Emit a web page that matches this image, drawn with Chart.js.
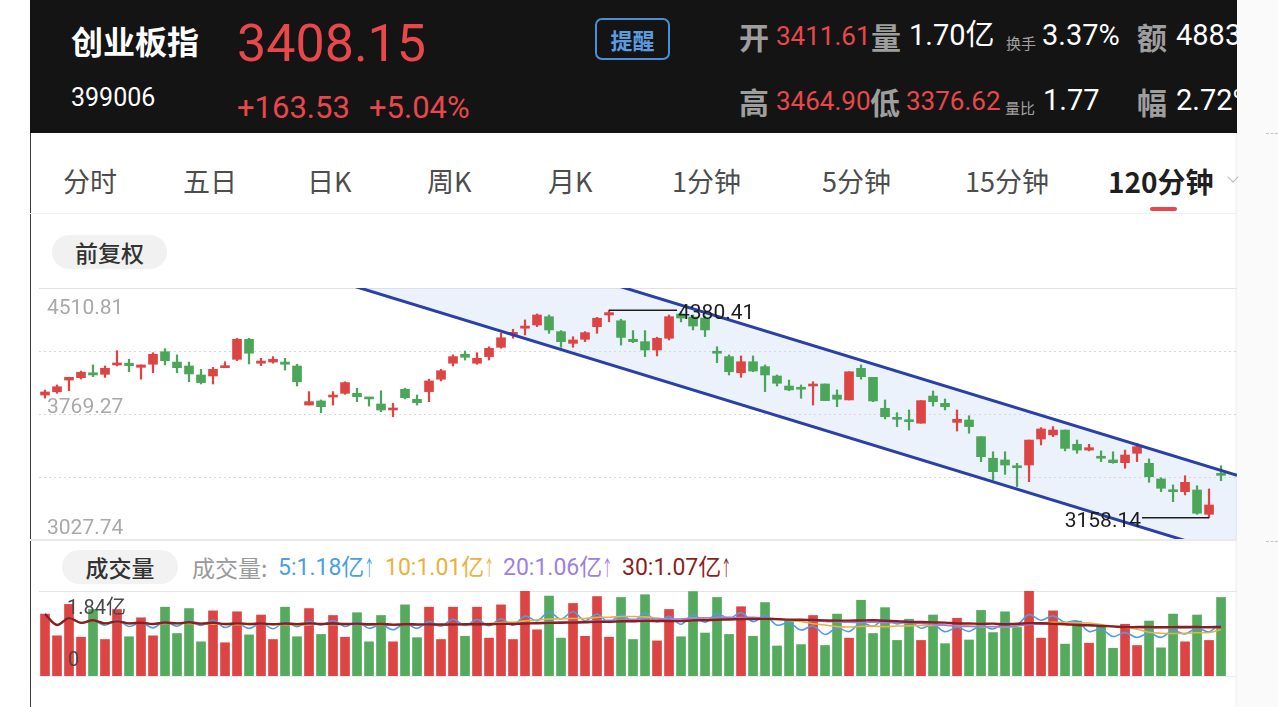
<!DOCTYPE html>
<html>
<head>
<meta charset="utf-8">
<script src="https://cdn.jsdelivr.net/npm/chart.js@4.4.0/dist/chart.umd.min.js"></script>
<style>
  body { margin: 0; width: 1278px; height: 707px; overflow: hidden; background: #fff; position: relative;
         font-family: "Noto Sans CJK SC", sans-serif; }
  .a { position: absolute; white-space: nowrap; line-height: 1; }
  .num { font-family: Roboto, "Noto Sans CJK SC", sans-serif; }
  #head { position: absolute; left: 30px; top: 0; width: 1207px; height: 133px; background: #141414; overflow: hidden; }
  .red { color: #e8484c; }
  .wht { color: #fff; }
  .lbl { font-size: 30px; font-weight: 700; color: #9e9e9e; }
  .sm { font-size: 15px; color: #a0a0a0; }
  .tab { font-size: 27px; color: #4d4d4d; top: 167px; }
  .pill { position: absolute; background: #f1f1f1; border-radius: 17px; text-align: center; color: #333;
          font-size: 23px; font-weight: 500; height: 34px; line-height: 34px; }
  .ar { display: inline-block; width: 8px; transform: scaleX(0.5); transform-origin: left center; font-size: 21px; }
  canvas { position: absolute; }
</style>
</head>
<body>

<div id="head">
  <div class="a wht" style="left:41px;top:24px;font-size:32px;font-weight:700;">创业板指</div>
  <div class="a num red" style="left:207px;top:18px;font-size:52px;">3408.15</div>
  <div class="a num wht" style="left:41px;top:85px;font-size:25px;">399006</div>
  <div class="a num red" style="left:207px;top:92px;font-size:31px;">+163.53</div>
  <div class="a num red" style="left:339px;top:92px;font-size:31px;">+5.04%</div>
  <div class="a" style="left:565px;top:18px;width:71px;height:38px;line-height:38px;border:2px solid #4c8fd4;border-radius:7px;text-align:center;color:#5b9be0;font-size:22px;font-weight:600;">提醒</div>

  <div class="a lbl" style="left:709px;top:21px;">开</div>
  <div class="a num red" style="left:746px;top:23px;font-size:26px;">3411.61</div>
  <div class="a lbl" style="left:841px;top:21px;">量</div>
  <div class="a num wht" style="left:879px;top:21px;font-size:29px;">1.70亿</div>
  <div class="a sm" style="left:976px;top:35px;">换手</div>
  <div class="a num wht" style="left:1012px;top:21px;font-size:29px;">3.37%</div>
  <div class="a lbl" style="left:1107px;top:21px;">额</div>
  <div class="a num wht" style="left:1146px;top:21px;font-size:29px;">4883</div>

  <div class="a lbl" style="left:709px;top:86px;">高</div>
  <div class="a num red" style="left:746px;top:88px;font-size:26px;">3464.90</div>
  <div class="a lbl" style="left:840px;top:86px;">低</div>
  <div class="a num red" style="left:876px;top:88px;font-size:26px;">3376.62</div>
  <div class="a sm" style="left:975px;top:100px;">量比</div>
  <div class="a num wht" style="left:1013px;top:86px;font-size:29px;">1.77</div>
  <div class="a lbl" style="left:1107px;top:86px;">幅</div>
  <div class="a num wht" style="left:1146px;top:86px;font-size:29px;">2.72%</div>
</div>

<!-- panel edges -->
<div class="a" style="left:30px;top:133px;width:1px;height:574px;background:#3a3a3a;"></div>
<div class="a" style="left:1237px;top:0;width:41px;height:707px;background:#fafafa;box-shadow:-1px 0 2px rgba(0,0,0,0.08);"></div>
<div class="a" style="left:1266px;top:133px;width:12px;border-top:1px dashed #c8c8c8;"></div>
<div class="a" style="left:1266px;top:541px;width:12px;border-top:1px dashed #c8c8c8;"></div>

<!-- tabs -->
<div class="a tab" style="left:63px;">分时</div>
<div class="a tab" style="left:183px;">五日</div>
<div class="a tab" style="left:307px;">日K</div>
<div class="a tab" style="left:427px;">周K</div>
<div class="a tab" style="left:548px;">月K</div>
<div class="a tab" style="left:672px;">1分钟</div>
<div class="a tab" style="left:822px;">5分钟</div>
<div class="a tab" style="left:965px;">15分钟</div>
<div class="a tab" style="left:1108px;font-size:28px;font-weight:700;color:#1f1f1f;">120分钟</div>
<div class="a" style="left:1150px;top:207px;width:27px;height:4px;border-radius:2px;background:#e5474c;"></div>
<div class="a" style="left:1229px;top:173px;width:7px;height:7px;border-right:1.5px solid #bbb;border-bottom:1.5px solid #bbb;transform:rotate(45deg);"></div>
<div class="a" style="left:30px;top:213px;width:1207px;height:1px;background:#efefef;"></div>

<div class="pill" style="left:52px;top:235px;width:115px;">前复权</div>

<canvas id="priceChart" width="1198" height="268" style="left:39px;top:280px;width:1198px;height:268px;"></canvas>
<div class="a" style="left:30px;top:539px;width:1207px;height:2px;background:#e9e9e9;"></div>

<!-- volume header -->
<div class="pill" style="left:62px;top:550px;width:116px;background:#f2f2f2;">成交量</div>
<div class="a" style="left:192px;top:556px;font-size:23px;color:#9a9a9a;">成交量:</div>
<div class="a num" style="left:278px;top:556px;font-size:23px;color:#4b9fe1;">5:1.18亿<span class="ar">↑</span></div>
<div class="a num" style="left:385px;top:556px;font-size:23px;color:#e9b23d;">10:1.01亿<span class="ar">↑</span></div>
<div class="a num" style="left:503px;top:556px;font-size:23px;color:#9d80e3;">20:1.06亿<span class="ar">↑</span></div>
<div class="a num" style="left:622px;top:556px;font-size:23px;color:#8a1f1f;">30:1.07亿<span class="ar">↑</span></div>

<canvas id="volChart" width="1198" height="101" style="left:39px;top:583px;width:1198px;height:101px;"></canvas>

<script>
// ===================================
// DATA (120 minute candles)
// ===================================
const opens = [
  3881, 3900, 3969, 3983, 4012, 4003, 4058, 4068, 4044, 4062,
  4136, 4075, 4052, 3999, 3993, 4042, 4091, 4209, 4068, 4075,
  4075, 4052, 3822, 3846, 3869, 3891, 3891, 3865, 3828, 3793,
  3915, 3856, 3901, 3974, 4068, 4121, 4068, 4107, 4162, 4238,
  4274, 4293, 4342, 4254, 4185, 4209, 4283, 4352, 4318, 4209,
  4195, 4146, 4215, 4358, 4340, 4334, 4136, 4107, 4012, 4077,
  4048, 3993, 3934, 3921, 3934, 3946, 3881, 3852, 4038, 3985,
  3803, 3744, 3730, 3715, 3875, 3832, 3720, 3734, 3636, 3509,
  3499, 3465, 3469, 3622, 3646, 3675, 3591, 3557, 3518, 3499,
  3483, 3538, 3479, 3387, 3322, 3312, 3322, 3179, 3411.61
];
const highs = [
  3910, 3940, 3986, 4022, 4058, 4052, 4142, 4091, 4058, 4130,
  4154, 4117, 4075, 4032, 4044, 4077, 4215, 4215, 4097, 4107,
  4097, 4062, 3901, 3852, 3901, 3959, 3921, 3865, 3906, 3832,
  3921, 3881, 3974, 4032, 4117, 4140, 4130, 4165, 4244, 4268,
  4323, 4358, 4352, 4260, 4224, 4254, 4338, 4380.41, 4327, 4260,
  4260, 4221, 4352, 4370, 4352, 4346, 4165, 4117, 4111, 4111,
  4058, 3999, 3969, 3940, 3959, 3946, 3911, 4018, 4058, 3985,
  3852, 3777, 3793, 3848, 3905, 3858, 3793, 3759, 3636, 3547,
  3547, 3479, 3616, 3689, 3695, 3675, 3616, 3591, 3552, 3547,
  3557, 3597, 3505, 3394, 3352, 3406, 3347, 3328, 3464.90
];
const lows = [
  3863, 3891, 3906, 3975, 3989, 3985, 4052, 4018, 3974, 4012,
  4058, 4012, 3959, 3946, 3946, 4042, 4083, 4064, 4054, 4068,
  4028, 3934, 3822, 3777, 3822, 3885, 3842, 3816, 3783, 3753,
  3858, 3822, 3842, 3964, 4052, 4087, 4062, 4087, 4156, 4215,
  4234, 4283, 4244, 4162, 4162, 4195, 4244, 4312, 4175, 4189,
  4107, 4111, 4205, 4311, 4264, 4225, 4071, 3999, 3985, 4018,
  3901, 3934, 3906, 3862, 3822, 3848, 3812, 3852, 3974, 3842,
  3740, 3695, 3675, 3715, 3816, 3793, 3669, 3656, 3489, 3381,
  3414, 3342, 3371, 3587, 3636, 3552, 3538, 3552, 3489, 3479,
  3450, 3489, 3367, 3312, 3253, 3293, 3179, 3158.14, 3376.62
];
const closes = [
  3899, 3930, 3985, 4015, 3999, 4038, 4068, 4054, 4058, 4121,
  4083, 4042, 4005, 3954, 4032, 4052, 4209, 4127, 4081, 4091,
  4062, 3959, 3842, 3812, 3878, 3954, 3871, 3858, 3793, 3803,
  3865, 3836, 3964, 4024, 4107, 4103, 4097, 4156, 4218, 4244,
  4287, 4352, 4264, 4195, 4205, 4248, 4333, 4366, 4220, 4195,
  4146, 4215, 4342, 4334, 4287, 4264, 4127, 4018, 4077, 4022,
  3999, 3950, 3911, 3915, 3940, 3848, 3856, 4018, 3989, 3846,
  3753, 3738, 3724, 3848, 3842, 3812, 3738, 3695, 3518, 3430,
  3469, 3453, 3616, 3681, 3675, 3567, 3557, 3571, 3509, 3483,
  3528, 3577, 3400, 3332, 3312, 3367, 3185, 3234, 3408.15
];
// volume in 亿
const volumes = [
  1.34, 0.87, 1.55, 0.84, 1.44, 0.79, 1.44, 0.85, 1.26, 0.87,
  1.49, 0.92, 1.46, 0.74, 1.41, 0.72, 1.39, 0.89, 1.32, 0.79,
  1.49, 0.85, 1.46, 0.90, 1.31, 0.84, 1.37, 0.74, 1.31, 0.74,
  1.54, 0.83, 1.49, 0.79, 1.49, 0.86, 1.49, 0.82, 1.54, 0.79,
  1.84, 1.00, 1.73, 0.82, 1.57, 0.86, 1.72, 0.84, 1.70, 0.79,
  1.76, 0.76, 1.44, 0.85, 1.83, 0.93, 1.70, 0.90, 1.50, 0.86,
  1.59, 0.65, 1.19, 0.68, 1.31, 0.66, 1.34, 0.82, 1.64, 0.92,
  1.48, 0.77, 1.23, 0.77, 1.32, 0.70, 1.25, 0.78, 1.42, 0.94,
  1.39, 1.05, 1.84, 0.82, 1.41, 0.69, 1.19, 0.71, 1.08, 0.60,
  1.12, 0.66, 1.19, 0.61, 1.34, 0.74, 1.32, 0.77, 1.70
];

const priceTicks = [4510.81, 4139.04, 3769.27, 3398.51, 3027.74];
const priceTickLabels = ['4510.81', '', '3769.27', '', '3027.74'];
const volMax = 1.84;

// drawn channel (index, price) at both ends of the x range
const channelX = [-0.5, 99.33];
const channelUpper = [5566.5, 3408.2];
const channelLower = [5089.1, 2930.8];

const highMark = { index: 47, value: 4380.41, text: '4380.41' };
const lowMark = { index: 97, value: 3158.14, text: '3158.14' };

// ===================================
// HELPERS
// ===================================
const UP = '#dd4545';
const DOWN = '#4ca65a';
const idx = closes.map((_, i) => i);
const candleColors = closes.map((c, i) => c >= opens[i] ? UP : DOWN);

function movingAvg(arr, n) {
    return arr.map((_, i) => {
        const part = arr.slice(Math.max(0, i - n + 1), i + 1);
        return part.reduce((s, v) => s + v, 0) / part.length;
    });
}

const xScale = { type: 'linear', min: -0.5, max: 99.33, offset: false, display: false };

// ===================================
// PRICE CHART
// ===================================
const priceDecor = {
    id: 'priceDecor',
    beforeDraw(chart) {
        const { ctx, chartArea: a, scales: { y } } = chart;
        ctx.save();
        ctx.lineWidth = 1;
        priceTicks.forEach((v, i) => {
            if (i === priceTicks.length - 1) return;
            const py = Math.round(y.getPixelForValue(v)) + 0.5;
            ctx.strokeStyle = i === 0 ? '#e2e2e2' : '#d8d8d8';
            ctx.setLineDash(i === 0 ? [] : [2, 3]);
            ctx.beginPath();
            ctx.moveTo(a.left, py);
            ctx.lineTo(a.right, py);
            ctx.stroke();
        });
        ctx.restore();
    },
    afterDatasetsDraw(chart) {
        const { ctx, chartArea: a, scales: { x, y } } = chart;
        const labelShift = [21, 0, -6, 0, -11];
        ctx.save();
        ctx.font = '21px Roboto';
        ctx.textBaseline = 'middle';
        ctx.fillStyle = '#a9a9a9';
        priceTicks.forEach((v, i) => {
            if (!priceTickLabels[i]) return;
            ctx.fillText(priceTickLabels[i], a.left + 8, y.getPixelForValue(v) + labelShift[i]);
        });

        // high / low markers
        ctx.strokeStyle = '#1e1e1e';
        ctx.fillStyle = '#1e1e1e';
        ctx.lineWidth = 1.5;
        ctx.font = '21px Roboto';
        const hx = x.getPixelForValue(highMark.index), hy = y.getPixelForValue(highMark.value);
        ctx.beginPath(); ctx.moveTo(hx, hy); ctx.lineTo(hx + 68, hy); ctx.stroke();
        ctx.textAlign = 'left';
        ctx.fillText(highMark.text, hx + 69, hy + 4);

        const lx = x.getPixelForValue(lowMark.index), ly = y.getPixelForValue(lowMark.value);
        ctx.beginPath(); ctx.moveTo(lx, ly); ctx.lineTo(lx - 67, ly); ctx.stroke();
        ctx.textAlign = 'right';
        ctx.fillText(lowMark.text, lx - 68, ly + 4);
        ctx.restore();
    }
};

new Chart(document.getElementById('priceChart'), {
    type: 'bar',
    data: {
        datasets: [
            {
                type: 'line',
                data: channelX.map((v, i) => ({ x: v, y: channelUpper[i] })),
                borderColor: '#2a40a6', borderWidth: 3, pointRadius: 0,
                fill: '+1', backgroundColor: 'rgba(205, 220, 248, 0.38)', order: 0
            },
            {
                type: 'line',
                data: channelX.map((v, i) => ({ x: v, y: channelLower[i] })),
                borderColor: '#2a40a6', borderWidth: 3, pointRadius: 0, fill: false, order: 0
            },
            {
                data: idx.map(i => ({ x: i, y: [lows[i], highs[i]] })),
                backgroundColor: candleColors, barThickness: 1.6, grouped: false, order: 2
            },
            {
                data: idx.map(i => ({ x: i, y: [opens[i], closes[i]] })),
                backgroundColor: candleColors, barThickness: 9, minBarLength: 2, grouped: false, order: 1
            }
        ]
    },
    options: {
        responsive: false,
        animation: false,
        layout: { padding: { top: 8, bottom: 8 } },
        scales: {
            x: xScale,
            y: { min: priceTicks[priceTicks.length - 1], max: priceTicks[0], display: false }
        },
        plugins: {
            legend: { display: false },
            tooltip: { enabled: false },
            filler: { drawTime: 'beforeDatasetsDraw' }
        }
    },
    plugins: [priceDecor]
});

// ===================================
// VOLUME CHART
// ===================================
const volDecor = {
    id: 'volDecor',
    beforeDraw(chart) {
        const { ctx, chartArea: a, scales: { y } } = chart;
        ctx.save();
        ctx.lineWidth = 1;
        ctx.strokeStyle = '#e4e4e4';
        let py = Math.round(y.getPixelForValue(volMax)) + 0.5;
        ctx.beginPath(); ctx.moveTo(a.left, py); ctx.lineTo(a.right, py); ctx.stroke();
        ctx.strokeStyle = '#eeeeee';
        py = Math.round(y.getPixelForValue(0)) + 0.5;
        ctx.beginPath(); ctx.moveTo(a.left, py); ctx.lineTo(a.right, py); ctx.stroke();
        ctx.restore();
    },
    afterDatasetsDraw(chart) {
        const { ctx, chartArea: a, scales: { y } } = chart;
        ctx.save();
        ctx.font = '20px Roboto, "Noto Sans CJK SC"';
        ctx.fillStyle = '#484848';
        ctx.textBaseline = 'middle';
        ctx.fillText(volMax.toFixed(2) + '亿', a.left + 28, y.getPixelForValue(volMax) + 18);
        ctx.fillText('0', a.left + 29, y.getPixelForValue(0) - 15);
        ctx.restore();
    }
};

const maLine = (n, color, width, order) => ({
    type: 'line',
    data: movingAvg(volumes, n).map((v, i) => ({ x: i, y: v })),
    borderColor: color, borderWidth: width, pointRadius: 0, tension: 0.35, fill: false, order
});

new Chart(document.getElementById('volChart'), {
    type: 'bar',
    data: {
        datasets: [
            maLine(30, '#8a1f1f', 2.4, 1),
            maLine(20, '#9d80e3', 1.6, 2),
            maLine(10, '#e9b23d', 1.6, 3),
            maLine(5, '#4b9fe1', 1.6, 4),
            {
                data: idx.map(i => ({ x: i, y: volumes[i] })),
                backgroundColor: candleColors.map(c => c === UP ? '#dd4444' : '#55aa5e'),
                barThickness: 9, grouped: false, order: 10
            }
        ]
    },
    options: {
        responsive: false,
        animation: false,
        layout: { padding: { top: 8, bottom: 8 } },
        scales: {
            x: xScale,
            y: { min: 0, max: volMax, display: false }
        },
        plugins: { legend: { display: false }, tooltip: { enabled: false } }
    },
    plugins: [volDecor]
});
</script>
</body>
</html>
